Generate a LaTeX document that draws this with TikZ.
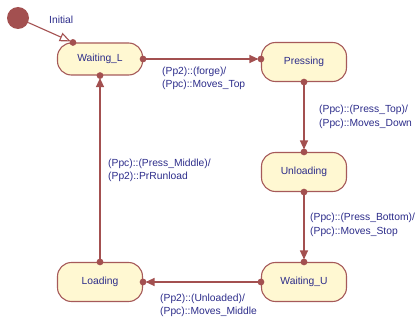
\documentclass[tikz,border=0pt]{standalone}
\usepackage{fontspec}
\setmainfont{Liberation Sans}
\usepackage{tikz}
\usetikzlibrary{arrows.meta}

\definecolor{stfill}{HTML}{FFF8D2}
\definecolor{stdraw}{HTML}{A65A5A}
\definecolor{lnred}{HTML}{A35050}
\definecolor{txblue}{HTML}{2C2C8A}

\begin{document}
\begin{tikzpicture}[x=1pt,y=-1pt,inner sep=0pt]
  \useasboundingbox(0,0)rectangle(416,321);
  \tikzstyle{v}=[rectangle,rounded corners=14pt,draw=stdraw,fill=stfill,line width=1.1pt,minimum width=85pt,minimum height=39pt,text=txblue]\fontsize{10.3}{13.5}\selectfont
  \tikzstyle{l}=[text=txblue,align=left,anchor=west]
  \node[v,minimum height=32pt](Waiting_L)at(100,59){Waiting\_L};
  \node[v](Pressing)at(304,62){Pressing};
  \node[v](Unloading)at(304,172){Unloading};
  \node[v](Waiting_U)at(304,282){Waiting\_U};
  \node[v](Loading)at(100,282){Loading};
  % initial state
  \node[circle,fill=lnred,minimum size=22pt](Init)at(18,18){};
  \coordinate(InTip)at([xshift=16pt]Waiting_L.north west);
  \draw[draw=lnred,line width=1.1pt,-{Triangle[open,length=11pt,width=9pt,fill=white]},shorten >=2.5pt](Init)--(InTip);
  \fill[lnred](InTip)circle(3.4);
  \node[text=txblue,anchor=west](lInit)at(49,20){Initial};
  % transitions
  \tikzstyle{e}=[-{Triangle[length=9pt,width=8pt]},draw=lnred,line width=1.2pt,shorten >=2.5pt]
  \foreach\o/\d in{Waiting_L.east/Waiting_L.east -| Pressing.west,Pressing.south/Unloading.north,Unloading.south/Waiting_U.north,Waiting_U.west/Loading.east,Loading.north/Waiting_L.south}{
    \draw[e](\o)--(\d);
    \fill[lnred](\o)circle(3.4);
    \fill[lnred](\d)circle(3.4);}
  \node[l](lforge)at(162,78.5){(Pp2)::(forge)/\\(Ppc)::Moves\_Top};
  \node[l](ltop)at(319,117){(Ppc)::(Press\_Top)/\\(Ppc)::Moves\_Down};
  \node[l](lbottom)at(310,225){(Ppc)::(Press\_Bottom)/\\(Ppc)::Moves\_Stop};
  \node[l](lunloaded)at(160,305.5){(Pp2)::(Unloaded)/\\(Ppc)::Moves\_Middle};
  \node[l](lmiddle)at(108,170.5){(Ppc)::(Press\_Middle)/\\(Pp2)::PrRunload};
\end{tikzpicture}
\end{document}
